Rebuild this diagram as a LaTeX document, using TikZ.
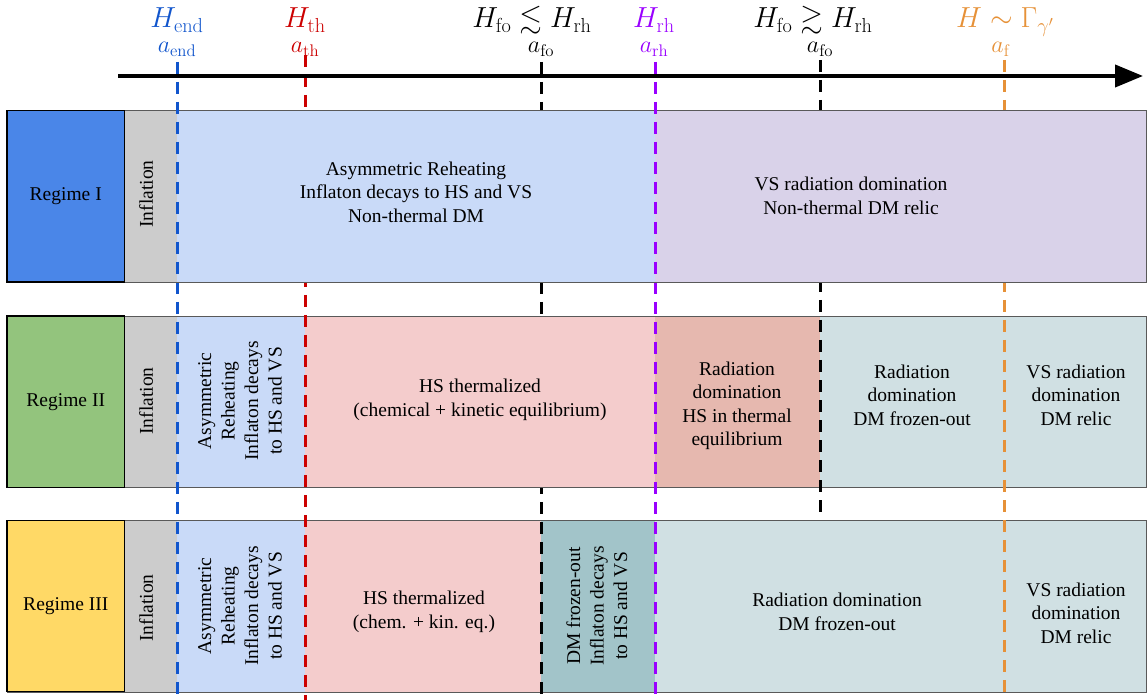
\RequirePackage{fix-cm}
\documentclass[tikz,border=0pt]{standalone}
\usepackage{amsmath}
\usepackage{amssymb}
\usepackage[no-math]{fontspec}
\setmainfont{Liberation Serif}
\usetikzlibrary{arrows.meta}

\definecolor{regblue}{HTML}{4A86E8}
\definecolor{reggreen}{HTML}{93C47D}
\definecolor{regyellow}{HTML}{FFD966}
\definecolor{inflgray}{HTML}{CCCCCC}
\definecolor{reheatblue}{HTML}{C9DAF8}
\definecolor{lavender}{HTML}{D9D2E9}
\definecolor{thermpink}{HTML}{F4CCCC}
\definecolor{radpink}{HTML}{E6B8AF}
\definecolor{frozenteal}{HTML}{D0E0E3}
\definecolor{darkteal}{HTML}{A2C4C9}
\definecolor{endblue}{HTML}{1155CC}
\definecolor{thred}{HTML}{CC0000}
\definecolor{rhpurple}{HTML}{9900FF}
\definecolor{fcorange}{HTML}{E69138}

\tikzset{
  cell/.style={align=center, inner sep=0pt, font=\fontsize{19.5}{23.5}\selectfont},
  regime/.style={cell, draw=black, line width=1.3pt, minimum width=117.5pt, minimum height=171.5pt},
  era/.style={dash pattern=on 12pt off 8pt, line width=3pt},
  rowline/.style={draw=black!65, line width=0.8pt},
  toplabel/.style={anchor=base, inner sep=0pt, font=\fontsize{29}{34}\selectfont},
  sublabel/.style={anchor=base, inner sep=0pt, font=\fontsize{24}{28}\selectfont},
}

\begin{document}
\begin{tikzpicture}[x=1pt,y=-1pt]
	\useasboundingbox (0,0) rectangle (1148,700);
	
	% era lines (behind the rows)
	\draw[era, endblue] (177,62) -- (177,700);
	\draw[era, thred] (305,55) -- (305,700);
	\draw[era, black] (541,62) -- (541,700);
	\draw[era, rhpurple] (655,62) -- (655,700);
	\draw[era, black] (820,60) -- (820,520);
	\draw[era, fcorange] (1004,60) -- (1004,700);
	
	% time axis
	\coordinate (tstart) at (118,76);
	\coordinate (tend) at (1143,76);
	\draw[line width=4pt, -{Triangle[length=28pt,width=22pt]}] (tstart) -- (tend);
	
	% labels above the axis
	\node[toplabel, endblue] (Hend) at (177,28) {$H_{\mathrm{end}}$};
	\node[sublabel, endblue] (aend) at (177,53) {$a_{\mathrm{end}}$};
	\node[toplabel, thred] (Hth) at (305,28) {$H_{\mathrm{th}}$};
	\node[sublabel, thred] (ath) at (305,53) {$a_{\mathrm{th}}$};
	\node[toplabel] (Hfoless) at (532,28) {$H_{\mathrm{fo}}\lesssim H_{\mathrm{rh}}$};
	\node[sublabel] (afoless) at (541,53) {$a_{\mathrm{fo}}$};
	\node[toplabel, rhpurple] (Hrh) at (654,28) {$H_{\mathrm{rh}}$};
	\node[sublabel, rhpurple] (arh) at (654,53) {$a_{\mathrm{rh}}$};
	\node[toplabel] (Hfomore) at (813,28) {$H_{\mathrm{fo}}\gtrsim H_{\mathrm{rh}}$};
	\node[sublabel] (afomore) at (820,53) {$a_{\mathrm{fo}}$};
	\node[toplabel, fcorange] (Hf) at (1005,28) {$H\sim\Gamma_{\gamma'}$};
	\node[sublabel, fcorange] (af) at (1001,53) {$a_{\mathrm{f}}$};
	
	% Regime I
	\fill[inflgray] (124.5,110.5) rectangle (176.5,282);
	\fill[reheatblue] (176.5,110.5) rectangle (655,282);
	\fill[lavender] (655,110.5) rectangle (1146,282);
	\draw[rowline] (7,110.5) rectangle (1146,282);
	\begin{scope}
		\clip (124.5,110.5) rectangle (1146,282);
		\draw[era, endblue] (177,62) -- (177,700);
		\draw[era, rhpurple] (655,62) -- (655,700);
	\end{scope}
	\node[regime, fill=regblue] (reg1) at (65.75,196.25) {Regime I};
	\node[cell, rotate=90] (infl1) at (146,194) {Inflation};
	\node[cell] (reheat1) at (416,192) {Asymmetric Reheating\\Inflaton decays to HS and VS\\Non-thermal DM};
	\node[cell] (relic1) at (851,196) {VS radiation domination\\Non-thermal DM relic};
	
	% Regime II
	\fill[inflgray] (124.5,316) rectangle (176.5,487.5);
	\fill[reheatblue] (176.5,316) rectangle (305,487.5);
	\fill[thermpink] (305,316) rectangle (655,487.5);
	\fill[radpink] (655,316) rectangle (820,487.5);
	\fill[frozenteal] (820,316) rectangle (1146,487.5);
	\draw[rowline] (7,316) rectangle (1146,487.5);
	\begin{scope}
		\clip (124.5,316) rectangle (1146,487.5);
		\draw[era, endblue] (177,62) -- (177,700);
		\draw[era, thred] (305,55) -- (305,700);
		\draw[era, rhpurple] (655,62) -- (655,700);
		\draw[era, black] (820,60) -- (820,520);
		\draw[era, fcorange] (1004,60) -- (1004,700);
	\end{scope}
	\node[regime, fill=reggreen] (reg2) at (65.75,401.75) {Regime II};
	\node[cell, rotate=90] (infl2) at (146,401) {Inflation};
	\node[cell, rotate=90] (reheat2) at (240,401) {Asymmetric\\Reheating\\Inflaton decays\\to HS and VS};
	\node[cell] (therm2) at (480,400) {HS thermalized\\(chemical + kinetic equilibrium)};
	\node[cell] (rad2) at (737,406) {Radiation\\domination\\HS in thermal\\equilibrium};
	\node[cell] (frozen2) at (912,395) {Radiation\\domination\\DM frozen-out};
	\node[cell] (relic2) at (1076,395) {VS radiation\\domination\\DM relic};
	
	% Regime III
	\fill[inflgray] (124.5,520) rectangle (176.5,692);
	\fill[reheatblue] (176.5,520) rectangle (305,692);
	\fill[thermpink] (305,520) rectangle (541,692);
	\fill[darkteal] (541,520) rectangle (655,692);
	\fill[frozenteal] (655,520) rectangle (1146,692);
	\draw[rowline] (7,520) rectangle (1146,692);
	\begin{scope}
		\clip (124.5,520) rectangle (1146,692);
		\draw[era, endblue] (177,62) -- (177,700);
		\draw[era, thred] (305,55) -- (305,700);
		\draw[era, black] (541,62) -- (541,700);
		\draw[era, rhpurple] (655,62) -- (655,700);
		\draw[era, fcorange] (1004,60) -- (1004,700);
	\end{scope}
	\node[regime, fill=regyellow] (reg3) at (65.75,606) {Regime III};
	\node[cell, rotate=90] (infl3) at (146,608) {Inflation};
	\node[cell, rotate=90] (reheat3) at (240,606) {Asymmetric\\Reheating\\Inflaton decays\\to HS and VS};
	\node[cell] (therm3) at (424,612) {HS thermalized\\(chem. + kin. eq.)};
	\node[cell, rotate=90] (frozen3) at (597,606) {DM frozen-out\\Inflaton decays\\to HS and VS};
	\node[cell] (rad3) at (837,612) {Radiation domination\\DM frozen-out};
	\node[cell] (relic3) at (1076,613) {VS radiation\\domination\\DM relic};
	
\end{tikzpicture}
\end{document}
